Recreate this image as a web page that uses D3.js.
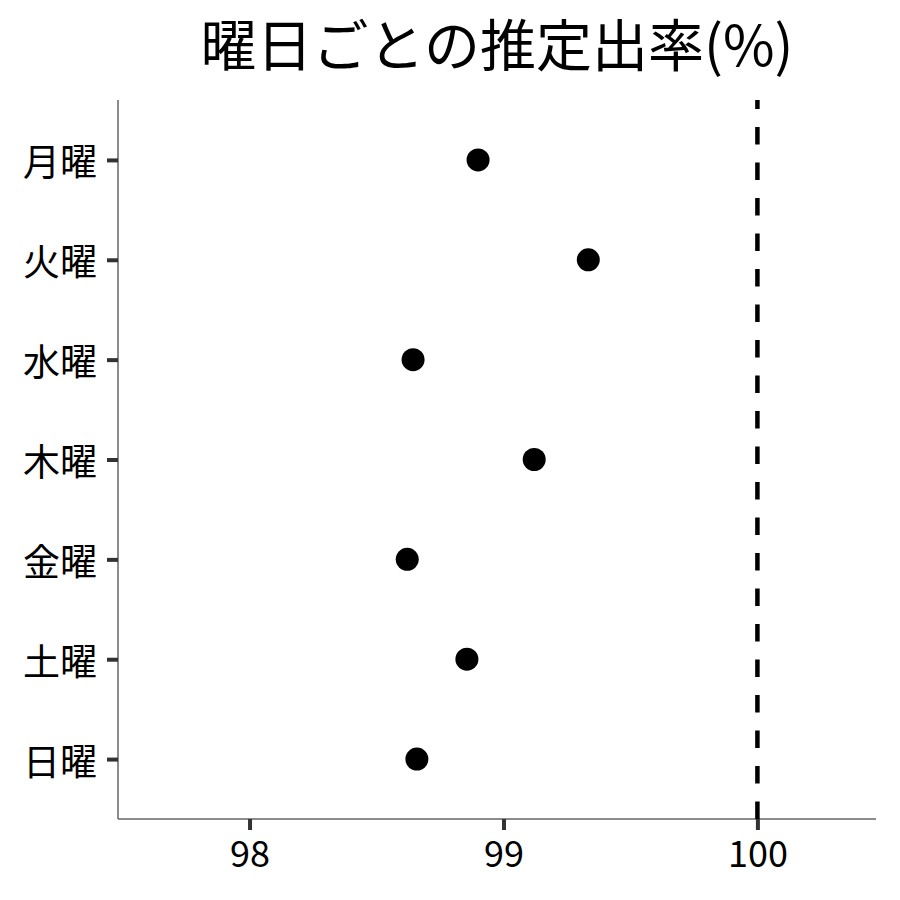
<!DOCTYPE html>
<head>
	<meta charset="utf-8">
	<style>
		body { margin: 0; background: #fff; }
		svg { display: block; font-family: "Noto Sans CJK JP", "Noto Sans", sans-serif; }
	</style>
	<script src="https://d3js.org/d3.v7.min.js"></script>
</head>
<body>
	<svg width="900" height="900"></svg>
	<script type="text/javascript">
		// data
		var days = ["月曜", "火曜", "水曜", "木曜", "金曜", "土曜", "日曜"];
		var rates = [98.90, 99.334, 98.644, 99.121, 98.621, 98.856, 98.659];
		var xTicks = [98, 99, 100];
		var refLine = 100;
		var title = "曜日ごとの推定出率(%)";

		var svg = d3.select("svg"),
			width = +svg.attr("width"),
			height = +svg.attr("height"),
			pLeft = 118, pRight = 876, pTop = 100, pBottom = 819;

		var x = d3.scaleLinear().domain([97.482, 100.467]).range([pLeft, pRight]);
		var y = d3.scalePoint().domain(days).range([pTop, pBottom]).padding(0.6);

		// title
		svg.append("text").attr("x", (pLeft + pRight) / 2).attr("y", 66)
			.attr("text-anchor", "middle").attr("font-size", 56).attr("fill", "#000")
			.text(title);

		// x axis
		var xAxis = svg.append("g").attr("transform", "translate(0," + pBottom + ")")
			.call(d3.axisBottom(x).tickValues(xTicks).tickSize(11).tickPadding(11).tickFormat(d3.format("d")));
		xAxis.select(".domain").attr("stroke", "#666").attr("stroke-width", 1.5)
			.attr("d", "M" + pLeft + ",0H" + pRight);
		xAxis.selectAll(".tick line").attr("stroke", "#333").attr("stroke-width", 4);
		xAxis.selectAll(".tick text").attr("font-size", 36).attr("fill", "#000")
			.attr("font-family", "'Noto Sans CJK JP', sans-serif");

		// y axis
		var yAxis = svg.append("g").attr("transform", "translate(" + pLeft + ",0)")
			.call(d3.axisLeft(y).tickSize(11).tickPadding(10));
		yAxis.select(".domain").attr("stroke", "#666").attr("stroke-width", 1.5)
			.attr("d", "M0," + pTop + "V" + pBottom);
		yAxis.selectAll(".tick line").attr("stroke", "#333").attr("stroke-width", 4);
		yAxis.selectAll(".tick text").attr("font-size", 37).attr("fill", "#000")
			.attr("dy", null).attr("dominant-baseline", "central")
			.attr("font-family", "'Noto Sans CJK JP', sans-serif");

		// reference line (dashes start at the bottom)
		svg.append("line").attr("x1", x(refLine)).attr("x2", x(refLine))
			.attr("y1", pBottom).attr("y2", pTop)
			.attr("stroke", "#000").attr("stroke-width", 4.5)
			.attr("stroke-dasharray", "17.5,18");

		// points
		svg.append("g").selectAll("circle").data(days).enter().append("circle")
			.attr("cx", function(d, i){ return x(rates[i]); })
			.attr("cy", function(d){ return y(d); })
			.attr("r", 11.5).attr("fill", "#000");
	</script>
</body>
